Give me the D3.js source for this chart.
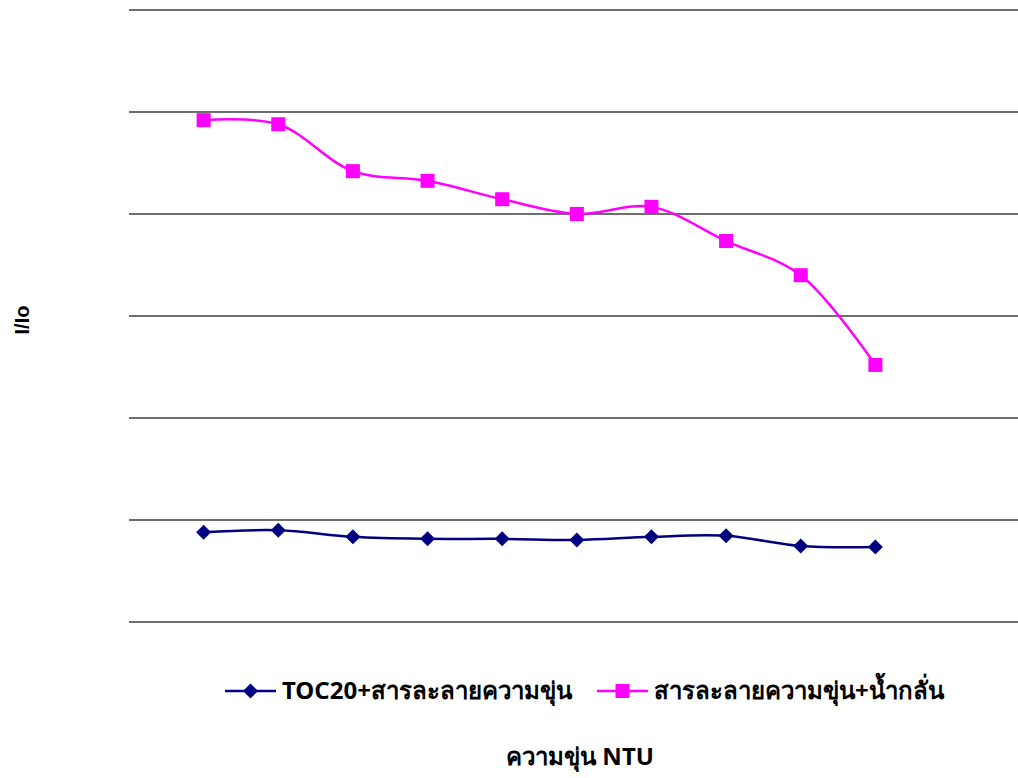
<!DOCTYPE html>
<html><head><meta charset="utf-8">
<script src="https://cdn.jsdelivr.net/npm/d3@7"></script>
<style>body{margin:0;background:#fff}svg{display:block}</style>
</head><body>
<svg id="c" width="1018" height="778"></svg>
<script>
const categories = ["1","2","3","4","5","6","7","8","9","10"];
const seriesNames = ["TOC20+สารละลายความขุ่น", "สารละลายความขุ่น+น้ำกลั่น"];
const tocValues = [0.176, 0.180, 0.167, 0.163, 0.163, 0.161, 0.167, 0.169, 0.149, 0.147];
const waterValues = [0.984, 0.976, 0.884, 0.865, 0.829, 0.800, 0.814, 0.747, 0.680, 0.504];
const yTicks = [0, 0.2, 0.4, 0.6, 0.8, 1.0, 1.2];
const xTitle = "ความขุ่น NTU";
const yTitle = "I/Io";

const svg = d3.select("#c");
const font = "'Noto Sans', 'Liberation Sans', sans-serif";
const x = d3.scalePoint().domain(categories).range([129, 950]).padding(1);
const y = d3.scaleLinear().domain([0, 1.2]).range([622, 10]);

svg.append("g").selectAll("line").data(yTicks).join("line")
  .attr("x1", 129).attr("x2", 1018)
  .attr("y1", d => y(d)).attr("y2", d => y(d))
  .attr("stroke", "#6e6e6e").attr("stroke-width", 2);

const line = d3.line().x((d, i) => x(categories[i])).y(d => y(d)).curve(d3.curveCatmullRom.alpha(0.5));

const series = [
  {vals: tocValues, color: "#000080", shape: "diamond"},
  {vals: waterValues, color: "#ff00ff", shape: "square"}
];
function marker(g, shape, color, cx, cy) {
  if (shape === "diamond") {
    g.append("path").attr("d", `M${cx},${cy-7.5}L${cx+7.5},${cy}L${cx},${cy+7.5}L${cx-7.5},${cy}Z`).attr("fill", color);
  } else {
    g.append("rect").attr("x", cx-7).attr("y", cy-7).attr("width", 14).attr("height", 14).attr("fill", color);
  }
}
series.forEach(s => {
  svg.append("path").datum(s.vals).attr("d", line).attr("fill", "none")
    .attr("stroke", s.color).attr("stroke-width", 2.5);
  const g = svg.append("g");
  s.vals.forEach((v, i) => marker(g, s.shape, s.color, x(categories[i]), y(v)));
});

// legend
const lg = svg.append("g");
const legendPos = [{x: 225, tx: 282}, {x: 597, tx: 654}];
series.forEach((s, i) => {
  const lp = legendPos[i];
  lg.append("line").attr("x1", lp.x).attr("x2", lp.x + 51).attr("y1", 691).attr("y2", 691)
    .attr("stroke", s.color).attr("stroke-width", 2.5);
  marker(lg, s.shape, s.color, lp.x + 25.5, 691);
  lg.append("text").attr("x", lp.tx).attr("y", 699).text(seriesNames[i])
    .attr("font-family", font).attr("font-size", 24).attr("font-weight", "bold").attr("fill", "#000");
});

svg.append("text").attr("x", 580).attr("y", 765).attr("text-anchor", "middle").text(xTitle)
  .attr("font-family", font).attr("font-size", 24).attr("font-weight", "bold");
svg.append("text").attr("transform", "translate(29,320) rotate(-90)").attr("text-anchor", "middle").text(yTitle)
  .attr("font-family", "'Liberation Sans', sans-serif").attr("font-size", 20).attr("font-weight", "bold");
</script>
</body></html>
